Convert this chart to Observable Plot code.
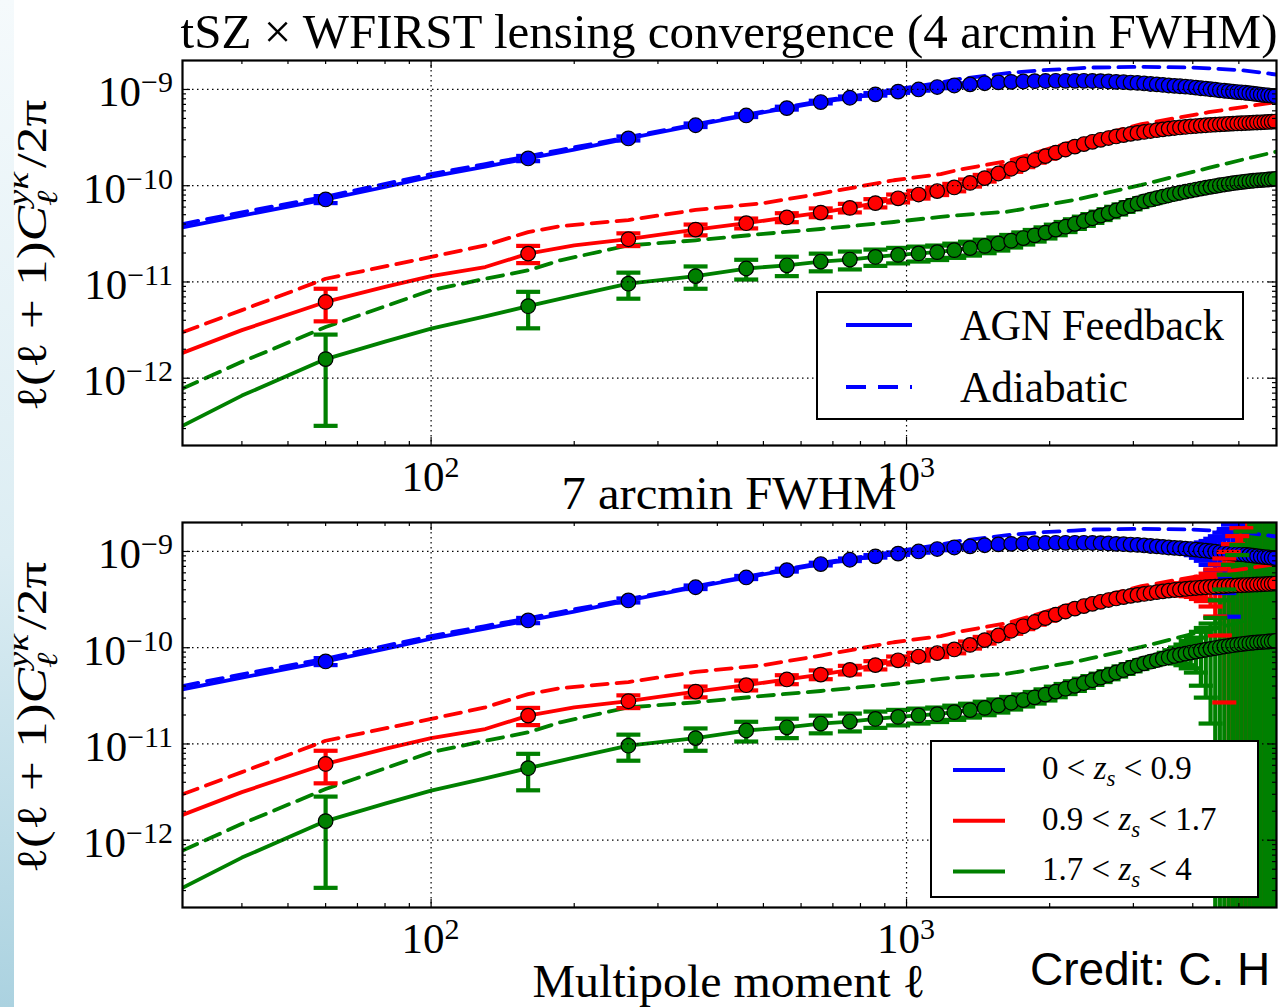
<!DOCTYPE html>
<html>
<head>
<meta charset="utf-8">
<script src="https://cdn.jsdelivr.net/npm/d3@7"></script>
<script src="https://cdn.jsdelivr.net/npm/@observablehq/plot@0.6"></script>
<style>
  html, body { margin: 0; padding: 0; background: #fff; }
  #root { position: relative; width: 1280px; height: 1007px; overflow: hidden; background: #fff; }
  #strip { position: absolute; left: 0; top: 0; width: 14px; height: 1007px;
           background: linear-gradient(to bottom, #f5fafc 0%, #dcedf3 55%, #abd2e0 100%); }
  .panel { position: absolute; left: 0; width: 1280px; }
  #overlay { position: absolute; left: 0; top: 0; pointer-events: none; }
</style>
</head>
<body>
<div id="root"><div id="strip"></div></div>
<script>
// ---------------- DATA ----------------
// binned multipoles of the measured points
const ell = [60,160,260,360,460,560,660,760,860,960,
  1060,1160,1260,1360,1460,1560,1660,1760,1860,1960,
  2060,2160,2260,2360,2460,2560,2660,2760,2860,2960,
  3060,3160,3260,3360,3460,3560,3660,3760,3860,3960,
  4060,4160,4260,4360,4460,4560,4660,4760,4860,4960,
  5060,5160,5260,5360,5460,5560,5660,5760,5860,5960];

// point values (AGN feedback), blue in 1e-10, red in 1e-11, green in 1e-12
const bluePts = [0.72,1.92,3.10,4.25,5.37,6.4,7.4,8.2,8.9,9.5,
  10.0,10.6,11.0,11.3,11.6,11.85,12.0,12.1,12.2,12.25,
  12.3,12.3,12.3,12.3,12.25,12.2,12.1,12.0,11.9,11.8,
  11.7,11.55,11.4,11.3,11.15,11.0,10.9,10.8,10.7,10.6,
  10.45,10.3,10.2,10.05,9.95,9.8,9.7,9.6,9.5,9.4,
  9.35,9.25,9.15,9.05,8.95,8.85,8.75,8.7,8.6,8.55];
const redPts = [0.62,1.97,2.78,3.5,4.08,4.68,5.26,5.88,6.6,7.4,
  8.1,8.8,9.6,10.7,12.0,13.4,15.0,16.7,18.5,20.3,
  22.1,23.8,25.5,27.1,28.6,30.0,31.3,32.5,33.6,34.6,
  35.4,36.2,37.0,37.8,38.5,39.2,39.8,40.3,40.8,41.3,
  41.7,42.1,42.5,42.8,43.1,43.4,43.7,44.0,44.2,44.4,
  44.6,44.8,45.0,45.2,45.4,45.6,45.8,46.0,46.2,46.4];
const greenPts = [1.58,5.6,9.6,11.5,13.8,14.9,16.3,17.1,18.2,19.1,
  19.8,20.4,21.4,22.5,23.7,25.1,26.8,28.6,30.5,32.6,
  35.0,37.5,40.2,43.0,45.9,48.9,52.0,55.3,58.7,62.1,
  65.5,68.8,71.6,74.4,77.0,79.6,82.1,84.5,86.8,89.1,
  91.2,93.3,95.3,97.3,99.2,101.1,102.9,104.6,106.2,107.8,
  109.2,110.5,111.7,112.7,113.6,114.4,115.2,116.0,116.8,117.6];

// 1-sigma errors, 4 arcmin beam (same units as points)
const blueSig4 = [0.06,0.12,0.15,0.18,0.2,0.22,0.24,0.25,0.26,0.27,
  0.28,0.29,0.3,0.3,0.3,0.3,0.3,0.3,0.3,0.3,
  0.3,0.3,0.3,0.3,0.3,0.3,0.3,0.3,0.3,0.3,
  0.32,0.33,0.34,0.35,0.36,0.37,0.38,0.39,0.4,0.41,
  0.42,0.43,0.44,0.45,0.46,0.47,0.48,0.49,0.5,0.51,
  0.52,0.53,0.54,0.55,0.56,0.57,0.58,0.59,0.6,0.61];
const redSig4 = [0.23,0.4,0.42,0.45,0.48,0.5,0.55,0.6,0.65,0.7,
  0.75,0.8,0.85,0.9,0.95,1.0,1.05,1.1,1.15,1.2,
  1.25,1.3,1.35,1.4,1.45,1.5,1.55,1.6,1.65,1.7,
  1.75,1.8,1.85,1.9,1.95,2.0,2.1,2.2,2.3,2.4,
  2.5,2.6,2.7,2.8,2.9,3.0,3.1,3.2,3.3,3.4,
  3.5,3.6,3.7,3.8,3.9,4.0,4.1,4.2,4.3,4.4];
const greenSig4 = [1.26,2.3,2.9,3.0,3.2,3.4,3.4,3.6,3.5,3.5,
  3.5,3.5,3.6,3.7,3.8,3.9,4.0,4.1,4.2,4.3,
  4.4,4.5,4.6,4.7,4.8,4.9,5.0,5.1,5.2,5.3,
  5.4,5.5,5.6,5.7,5.8,5.9,6.0,6.1,6.2,6.3,
  6.4,6.5,6.6,6.7,6.8,6.9,7.0,7.1,7.2,7.3,
  7.4,7.5,7.6,7.7,7.8,7.9,8.0,8.1,8.2,8.3];
// 7 arcmin beam: identical up to l=3460, then the errors for l=3560..5960
const blueSig7Tail = [0.4,0.5,0.65,0.8,1.0,1.3,1.7,2.2,2.8,3.6,4.6,6,7.5,9.5,12,15,19,24,30,37,45,55,67,80,95];
const redSig7Tail = [3,4,5,6,7,8,10,12,16,22,30,41,55,75,100,130,170,220,280,350,430,520,620,730,850];
const greenSig7Tail = [9,12,16,21,28,36,53,65,81,105,210,300,470,620,810,1060,1500,2000,2600,3300,4200,5200,6400,7800,9500];

// model curves
const agnL = [30,40,60,80,100,130,160,200,260,360,460,560,660,760,860,960,1060,1160,1260,1460,1660,1860,2060,2260,2460,2760,3060,3460,3860,4260,4660,5060,5460,6000];
const blueAGN = [0.37,0.49,0.72,0.97,1.24,1.58,1.92,2.37,3.10,4.25,5.37,6.4,7.4,8.2,8.9,9.5,10.0,10.6,11.0,11.6,12.0,12.2,12.3,12.3,12.25,12.0,11.7,11.15,10.7,10.2,9.7,9.35,8.95,8.5];
const redAGN = [0.183,0.316,0.62,0.89,1.15,1.43,1.97,2.4,2.78,3.5,4.08,4.68,5.26,5.88,6.6,7.4,8.1,8.8,9.6,12.0,15.0,18.5,22.1,25.5,28.6,32.5,35.4,38.5,40.8,42.5,43.7,44.6,45.4,46.5];
const greenAGN = [0.32,0.66,1.58,2.4,3.27,4.4,5.6,7.2,9.6,11.5,13.8,14.9,16.3,17.1,18.2,19.1,19.8,20.4,21.4,23.7,26.8,30.5,35.0,40.2,45.9,55.3,65.5,77.0,86.8,95.3,102.9,109.2,113.6,117.9];
const adiL = [30,40,60,100,130,160,187,260,360,500,660,940,1180,1300,1630,1920,2250,2450,3120,4000,4320,5100,6000];
const blueADI = [0.40,0.53,0.77,1.32,1.68,2.02,2.35,3.2,4.35,5.9,7.6,9.9,11.8,12.9,14.8,15.8,16.5,16.9,17.2,16.9,16.6,15.8,14.3];
const redADI = [0.30,0.51,1.08,1.82,2.4,3.3,3.8,4.4,5.6,6.6,8.3,11.4,13.2,14.8,18.0,22.9,29.0,32.0,43.6,54.2,58.0,65.7,74.0];
const greenADI = [0.78,1.48,3.4,8.2,10.8,13.2,16.8,24.0,27.1,31.6,35.5,42.0,47.5,49.5,53.7,61.8,71.0,77.8,102,139,153,187,226];

const units = {blue: 1e-10, red: 1e-11, green: 1e-12};
const colors = {blue: "#0000ff", red: "#ff0000", green: "#008000"};

// axis ticks
const xMajor = [100, 1000];
const xMinor = [40,50,60,70,80,90,200,300,400,500,600,700,800,900,2000,3000,4000,5000];
const yMajor = [1e-9, 1e-10, 1e-11, 1e-12];
const yMajorExp = ["−9", "−10", "−11", "−12"];
const yMinor = [3e-13,4e-13,5e-13,6e-13,7e-13,8e-13,9e-13,
  2e-12,3e-12,4e-12,5e-12,6e-12,7e-12,8e-12,9e-12,
  2e-11,3e-11,4e-11,5e-11,6e-11,7e-11,8e-11,9e-11,
  2e-10,3e-10,4e-10,5e-10,6e-10,7e-10,8e-10,9e-10];
const xMajorExp = ["2", "3"];

const titles = ["tSZ × WFIRST lensing convergence (4 arcmin FWHM)", "7 arcmin FWHM"];
const xLabel = "Multipole moment ℓ";
const credit = "Credit: C. H";
const legendModel = ["AGN Feedback", "Adiabatic"];
const legendZlo = ["0", "0.9", "1.7"];
const legendZhi = ["0.9", "1.7", "4"];

// ---------------- LAYOUT ----------------
const W = 1280, ML = 182, MR = 4, MT = 60, FH = 385, MB = 15;
const IW = W - ML - MR;
const panelTops = [0, 462];
const SERIF = "'Liberation Serif','Times New Roman','DejaVu Serif',serif";
const SANS = "'Liberation Sans',Arial,sans-serif";
const LW = 3.8;

const capSymbol = { draw(ctx) { ctx.moveTo(-12, 0); ctx.lineTo(12, 0); } };

function pts(vals, sig, unit) {
  return ell.map((l, i) => {
    const v = vals[i] * unit, s = sig[i] * unit;
    return {l, v, lo: Math.max(v - s, 1e-17), hi: v + s};
  });
}
function curve(ls, vals, unit) { return ls.map((l, i) => ({l, v: vals[i] * unit})); }

function makePanel(sigs) {
  const series = [
    {c: colors.blue, p: pts(bluePts, sigs.blue, units.blue), agn: curve(agnL, blueAGN, units.blue), adi: curve(adiL, blueADI, units.blue)},
    {c: colors.red, p: pts(redPts, sigs.red, units.red), agn: curve(agnL, redAGN, units.red), adi: curve(adiL, redADI, units.red)},
    {c: colors.green, p: pts(greenPts, sigs.green, units.green), agn: curve(agnL, greenAGN, units.green), adi: curve(adiL, greenADI, units.green)}
  ];
  const marks = [];
  for (const s of series)
    marks.push(Plot.ruleX(s.p, {x: "l", y1: "lo", y2: "hi", stroke: s.c, strokeWidth: 4.2, clip: true}));
  for (const s of series) {
    marks.push(Plot.line(s.agn, {x: "l", y: "v", stroke: s.c, strokeWidth: LW, clip: true}));
    marks.push(Plot.line(s.adi, {x: "l", y: "v", stroke: s.c, strokeWidth: LW, strokeDasharray: "16,9", clip: true}));
  }
  for (const s of series) {
    marks.push(Plot.dot(s.p, {x: "l", y: "hi", symbol: capSymbol, fill: "none", stroke: s.c, strokeWidth: 4.2, clip: true}));
    marks.push(Plot.dot(s.p, {x: "l", y: "lo", symbol: capSymbol, fill: "none", stroke: s.c, strokeWidth: 4.2, clip: true}));
    marks.push(Plot.dot(s.p, {x: "l", y: "v", r: 7.3, fill: s.c, stroke: "#000", strokeWidth: 1.2, clip: true}));
  }
  // grid
  marks.push(Plot.ruleX(xMajor, {x: d => d, stroke: "#000", strokeWidth: 1.2, strokeDasharray: "1.5,3.5"}));
  marks.push(Plot.ruleY(yMajor, {y: d => d, stroke: "#000", strokeWidth: 1.2, strokeDasharray: "1.5,3.5"}));
  // inward ticks on all four sides
  marks.push(Plot.tickX(xMajor, {x: d => d, insetTop: FH - 8, stroke: "#000", strokeWidth: 1.2}));
  marks.push(Plot.tickX(xMajor, {x: d => d, insetBottom: FH - 8, stroke: "#000", strokeWidth: 1.2}));
  marks.push(Plot.tickX(xMinor, {x: d => d, insetTop: FH - 4, stroke: "#000", strokeWidth: 1.2}));
  marks.push(Plot.tickX(xMinor, {x: d => d, insetBottom: FH - 4, stroke: "#000", strokeWidth: 1.2}));
  marks.push(Plot.tickY(yMajor, {y: d => d, insetRight: IW - 8, stroke: "#000", strokeWidth: 1.2}));
  marks.push(Plot.tickY(yMajor, {y: d => d, insetLeft: IW - 8, stroke: "#000", strokeWidth: 1.2}));
  marks.push(Plot.tickY(yMinor, {y: d => d, insetRight: IW - 4, stroke: "#000", strokeWidth: 1.2}));
  marks.push(Plot.tickY(yMinor, {y: d => d, insetLeft: IW - 4, stroke: "#000", strokeWidth: 1.2}));
  marks.push(Plot.frame({stroke: "#000", strokeWidth: 2.2}));

  return Plot.plot({
    width: W, height: MT + FH + MB,
    marginLeft: ML, marginRight: MR, marginTop: MT, marginBottom: MB,
    x: {type: "log", domain: [30, 6000], axis: null},
    y: {type: "log", domain: [2e-13, 2e-9], axis: null},
    style: {background: "transparent", overflow: "visible", maxWidth: "none"},
    marks
  });
}

const root = document.getElementById("root");
const sigSets = [
  {blue: blueSig4, red: redSig4, green: greenSig4},
  {blue: blueSig4.slice(0, 35).concat(blueSig7Tail), red: redSig4.slice(0, 35).concat(redSig7Tail), green: greenSig4.slice(0, 35).concat(greenSig7Tail)}
];
const plots = sigSets.map((sigs, k) => {
  const p = makePanel(sigs);
  const wrap = document.createElement("div");
  wrap.className = "panel";
  wrap.style.top = panelTops[k] + "px";
  wrap.appendChild(p);
  root.appendChild(wrap);
  return p;
});

// ---------------- OVERLAY TEXT ----------------
const ov = d3.select(root).append("svg").attr("id", "overlay").attr("width", W).attr("height", 1007);

function powLabel(x, y, exp, anchor) {
  const t = ov.append("text").attr("x", x).attr("y", y).attr("text-anchor", anchor)
    .attr("font-family", SERIF).attr("font-size", 43).attr("fill", "#000");
  t.append("tspan").text("10");
  t.append("tspan").attr("font-size", 30).attr("dy", -14).text(exp);
}

function yLabel(cx, cy, targetLen) {
  const g = ov.append("g").attr("transform", `translate(${cx},${cy}) rotate(-90)`);
  const inner = g.append("g");
  const t = inner.append("text").attr("font-family", SERIF).attr("font-size", 42).attr("fill", "#000");
  t.append("tspan").text("ℓ(ℓ + 1)");
  t.append("tspan").attr("font-style", "italic").text("C");
  const s1 = t.append("tspan").attr("font-style", "italic").attr("font-size", 29).attr("dy", -18).text("yκ");
  const w1 = s1.node().getComputedTextLength();
  const s2 = t.append("tspan").attr("font-style", "italic").attr("font-size", 29).attr("dx", -w1).attr("dy", 29).text("ℓ");
  const w2 = s2.node().getComputedTextLength();
  t.append("tspan").attr("dx", w1 - w2 + 3).attr("dy", -11).text("/2π");
  const bb = t.node().getBBox();
  t.attr("x", -(bb.x + bb.width / 2));
  inner.attr("transform", `scale(${targetLen / bb.width},1)`);
}

plots.forEach((p, k) => {
  const top = panelTops[k];
  const sx = p.scale("x"), sy = p.scale("y");
  yMajor.forEach((v, i) => powLabel(173, top + sy.apply(v) + 17.5, yMajorExp[i], "end"));
  xMajor.forEach((v, i) => powLabel(sx.apply(v), top + MT + FH + 46, xMajorExp[i], "middle"));
  yLabel(46, top + MT + FH / 2 + 3, 312);
  ov.append("text").attr("x", (ML + W - MR) / 2).attr("y", k === 0 ? 48 : 509)
    .attr("text-anchor", "middle").attr("font-family", SERIF).attr("font-size", k === 0 ? 48 : 47)
    .attr("textLength", k === 0 ? 1097 : 335).attr("lengthAdjust", "spacingAndGlyphs")
    .attr("fill", "#000").text(titles[k]);
});

ov.append("text").attr("x", 729).attr("y", 997).attr("text-anchor", "middle")
  .attr("font-family", SERIF).attr("font-size", 47).attr("textLength", 393).attr("lengthAdjust", "spacingAndGlyphs")
  .attr("fill", "#000").text(xLabel);

ov.append("text").attr("x", 1030).attr("y", 985).attr("font-family", SANS).attr("font-size", 46)
  .attr("fill", "#000").text(credit);

// legend (top panel): model styles
ov.append("rect").attr("x", 817).attr("y", 292).attr("width", 426).attr("height", 127)
  .attr("fill", "#fff").attr("stroke", "#000").attr("stroke-width", 2);
[325, 387].forEach((y, i) => {
  ov.append("line").attr("x1", 846).attr("x2", 912).attr("y1", y).attr("y2", y)
    .attr("stroke", colors.blue).attr("stroke-width", 4).attr("stroke-dasharray", i ? "20,12" : null);
  ov.append("text").attr("x", 960).attr("y", y + 15).attr("font-family", SERIF).attr("font-size", 44)
    .attr("textLength", i ? 168 : 264).attr("lengthAdjust", "spacingAndGlyphs").attr("fill", "#000").text(legendModel[i]);
});

// legend (bottom panel): source redshift bins
ov.append("rect").attr("x", 931).attr("y", 741).attr("width", 327).attr("height", 156)
  .attr("fill", "#fff").attr("stroke", "#000").attr("stroke-width", 2);
[colors.blue, colors.red, colors.green].forEach((c, i) => {
  const y = 770 + i * 50.7;
  ov.append("line").attr("x1", 953).attr("x2", 1005).attr("y1", y).attr("y2", y)
    .attr("stroke", c).attr("stroke-width", 4);
  const t = ov.append("text").attr("x", 1042).attr("y", y + 9).attr("font-family", SERIF).attr("font-size", 33).attr("fill", "#000");
  t.append("tspan").text(`${legendZlo[i]} < `);
  t.append("tspan").attr("font-style", "italic").text("z");
  t.append("tspan").attr("font-style", "italic").attr("font-size", 23).attr("dy", 7).text("s");
  t.append("tspan").attr("dy", -7).text(` < ${legendZhi[i]}`);
});
</script>
</body>
</html>
